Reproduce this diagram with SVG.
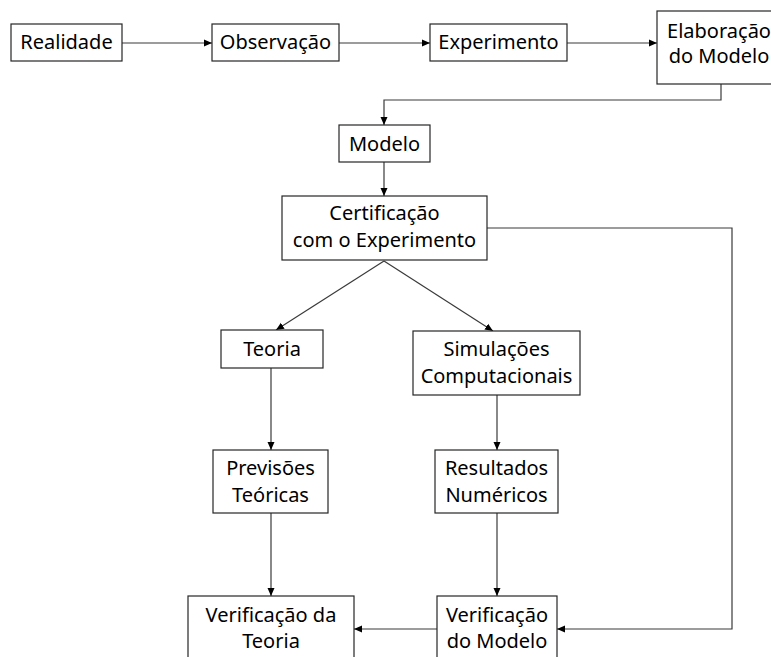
<svg xmlns="http://www.w3.org/2000/svg" width="771" height="657" viewBox="0 0 771 657">
  <style>
    .box { fill: #ffffff; stroke: #262626; stroke-width: 1.2; }
    .lbl { font-family: "Noto Sans", "Open Sans", sans-serif; font-size: 20px; fill: #000000; text-anchor: middle; }
    .link { fill: none; stroke: #3a3a3a; stroke-width: 1.2; marker-end: url(#arrow); }
  </style>
  <defs>
    <marker id="arrow" viewBox="0 0 8 8" refX="8" refY="4" markerWidth="8" markerHeight="8" markerUnits="userSpaceOnUse" orient="auto">
      <path d="M0,0.5 L8,4 L0,7.5 Z" fill="#000000"/>
    </marker>
  </defs>
  <rect width="771" height="657" fill="#ffffff"/>

  <g id="connectors">
    <line class="link" x1="122" y1="43" x2="212" y2="43"/>
    <line class="link" x1="339" y1="43" x2="430" y2="43"/>
    <line class="link" x1="567" y1="43" x2="657" y2="43"/>
    <polyline class="link" points="721,84 721,100 384,100 384,125"/>
    <line class="link" x1="384" y1="162" x2="384" y2="196"/>
    <line class="link" x1="384" y1="261" x2="276" y2="330"/>
    <line class="link" x1="384" y1="261" x2="493" y2="331"/>
    <line class="link" x1="271" y1="368" x2="271" y2="450"/>
    <line class="link" x1="497" y1="395" x2="497" y2="450"/>
    <line class="link" x1="271" y1="513" x2="271" y2="596"/>
    <line class="link" x1="497" y1="513" x2="497" y2="596"/>
    <polyline class="link" points="487,228 732,228 732,629 557,629"/>
    <line class="link" x1="437" y1="629" x2="354" y2="629"/>
  </g>

  <g id="realidade">
    <rect class="box" x="11" y="24" width="111" height="37"/>
    <text class="lbl" x="66.5" y="49">Realidade</text>
  </g>
  <g id="observacao">
    <rect class="box" x="212" y="24" width="127" height="37"/>
    <text class="lbl" x="275.5" y="49">Observação</text>
  </g>
  <g id="experimento">
    <rect class="box" x="430" y="24" width="137" height="37"/>
    <text class="lbl" x="498.5" y="49">Experimento</text>
  </g>
  <g id="elaboracao">
    <rect class="box" x="657" y="11" width="128" height="73"/>
    <text class="lbl" x="719" y="38">Elaboração</text>
    <text class="lbl" x="719" y="63">do Modelo</text>
  </g>
  <g id="modelo">
    <rect class="box" x="339" y="125" width="91" height="37"/>
    <text class="lbl" x="384.5" y="151">Modelo</text>
  </g>
  <g id="certificacao">
    <rect class="box" x="282" y="196" width="205" height="64"/>
    <text class="lbl" x="384.5" y="220">Certificação</text>
    <text class="lbl" x="384.5" y="247">com o Experimento</text>
  </g>
  <g id="teoria">
    <rect class="box" x="221" y="330" width="102" height="38"/>
    <text class="lbl" x="272" y="356">Teoria</text>
  </g>
  <g id="simulacoes">
    <rect class="box" x="413" y="331" width="167" height="64"/>
    <text class="lbl" x="496.5" y="356">Simulações</text>
    <text class="lbl" x="496.5" y="383">Computacionais</text>
  </g>
  <g id="previsoes">
    <rect class="box" x="213" y="450" width="115" height="63"/>
    <text class="lbl" x="270.5" y="475">Previsões</text>
    <text class="lbl" x="270.5" y="502">Teóricas</text>
  </g>
  <g id="resultados">
    <rect class="box" x="435" y="450" width="123" height="63"/>
    <text class="lbl" x="496.5" y="475">Resultados</text>
    <text class="lbl" x="496.5" y="502">Numéricos</text>
  </g>
  <g id="verificacao-teoria">
    <rect class="box" x="188" y="596" width="166" height="70"/>
    <text class="lbl" x="271" y="622">Verificação da</text>
    <text class="lbl" x="271" y="648">Teoria</text>
  </g>
  <g id="verificacao-modelo">
    <rect class="box" x="437" y="596" width="120" height="70"/>
    <text class="lbl" x="497" y="622">Verificação</text>
    <text class="lbl" x="497" y="648">do Modelo</text>
  </g>
</svg>
